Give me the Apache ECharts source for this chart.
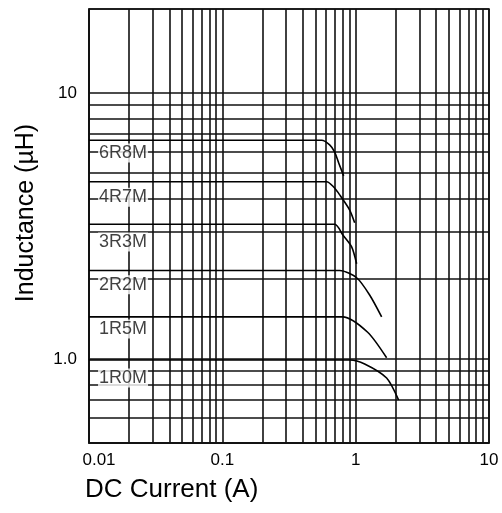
<!DOCTYPE html>
<html>
<head>
<meta charset="utf-8">
<script src="https://cdn.jsdelivr.net/npm/echarts@6/dist/echarts.min.js"></script>
<style>
  html, body { margin: 0; padding: 0; background: #fff; }
  #chart { width: 502px; height: 513px; }
</style>
</head>
<body>
<div id="chart"></div>
<script>
var chart = echarts.init(document.getElementById('chart'));

// part numbers and their curves (current in A, inductance in uH)
var parts = ['6R8M', '4R7M', '3R3M', '2R2M', '1R5M', '1R0M'];
var currentA = [
  [0.01, 0.556, 0.638, 0.696, 0.746, 0.813],
  [0.01, 0.606, 0.684, 0.759, 0.902, 0.983],
  [0.01, 0.696, 0.799, 0.933, 1.017],
  [0.01, 0.759, 1.017, 1.273, 1.566],
  [0.01, 0.799, 1.23, 1.707],
  [0.01, 0.902, 1.168, 1.707, 2.10]
];
var inductance = [
  [6.64, 6.64, 6.38, 6.0, 5.46, 4.88],
  [4.64, 4.64, 4.43, 4.14, 3.63, 3.25],
  [3.21, 3.21, 2.93, 2.64, 2.28],
  [2.15, 2.15, 2.02, 1.74, 1.44],
  [1.44, 1.44, 1.26, 1.01],
  [0.991, 0.991, 0.958, 0.848, 0.701]
];
// where the part tags sit on the chart
var tagCurrent = 0.018;
var tagInductance = [5.95, 4.06, 2.75, 1.90, 1.297, 0.848];

var xTickLabels = {'-2': '0.01', '-1': '0.1', '0': '1', '1': '10'};
var yTickLabels = {'0': '1.0', '1': '10'};

var font = "'Liberation Sans', Arial, sans-serif";
var ink = '#000';

// minor grid lines (2..9 in each decade)
var xMinor = [], yMinor = [];
[0.01, 0.1, 1].forEach(function(d) {
  for (var k = 2; k <= 9; k++) xMinor.push({xAxis: +(d * k).toPrecision(2)});
});
[0.1, 1].forEach(function(d) {
  for (var k = 2; k <= 9; k++) {
    var v = +(d * k).toPrecision(2);
    if (v >= 0.6) yMinor.push({yAxis: v});
  }
});

function decadeLabel(map) {
  return function(v) {
    var e = Math.log10(v);
    var r = Math.round(e);
    if (Math.abs(e - r) > 1e-6) return '';
    var s = map[String(r)];
    if (!s) return '';
    return r === -2 ? '{first|' + s + '}' : s;
  };
}

var series = parts.map(function(p, i) {
  return {
    name: p,
    type: 'line',
    z: 5,
    symbol: 'none',
    smooth: 0.25,
    lineStyle: {color: ink, width: 1.6},
    data: currentA[i].map(function(x, j) { return [x, inductance[i][j]]; })
  };
});

series.push({
  type: 'line',
  data: [],
  z: 2,
  markLine: {
    silent: true,
    symbol: 'none',
    animation: false,
    label: {show: false},
    lineStyle: {color: '#111', width: 1.6, type: 'solid'},
    data: xMinor.concat(yMinor)
  }
});

series.push({
  type: 'scatter',
  z: 10,
  symbolSize: 0,
  data: parts.map(function(p, i) { return {value: [tagCurrent, tagInductance[i]], name: p}; }),
  label: {
    show: true,
    position: 'inside',
    formatter: '{b}',
    fontFamily: font,
    fontSize: 18,
    color: '#111',
    backgroundColor: '#fff',
    padding: [1, 1, 0, 1]
  }
});

var option = {
  animation: false,
  grid: {
    left: 89, right: 13, top: 9, bottom: 70,
    show: true, borderColor: '#111', borderWidth: 1.6,
    containLabel: false
  },
  xAxis: {
    type: 'log',
    logBase: 10,
    min: 0.01,
    max: 10,
    axisLine: {show: true, lineStyle: {color: '#111', width: 1.6}},
    axisTick: {show: false},
    splitLine: {show: true, lineStyle: {color: '#111', width: 1.6}},
    axisLabel: {
      formatter: decadeLabel(xTickLabels),
      fontFamily: font,
      fontSize: 17,
      color: '#000',
      margin: 9,
      rich: {first: {fontFamily: font, fontSize: 17, color: '#000', padding: [0, 0, 0, 20]}}
    }
  },
  yAxis: {
    type: 'log',
    logBase: 10,
    min: 0.483,
    max: 20.7,
    axisLine: {show: true, lineStyle: {color: '#111', width: 1.6}},
    axisTick: {show: false},
    splitLine: {show: true, lineStyle: {color: '#111', width: 1.6}},
    axisLabel: {
      formatter: decadeLabel(yTickLabels),
      fontFamily: font,
      fontSize: 17,
      color: '#000',
      margin: 12
    }
  },
  graphic: [
    {
      type: 'text',
      left: 85,
      top: 477,
      style: {text: 'DC Current (A)', font: "26px 'Liberation Sans', Arial, sans-serif", fill: '#000'}
    },
    {
      type: 'text',
      x: 26,
      y: 213,
      rotation: Math.PI / 2,
      style: {
        text: 'Inductance (\u00b5H)',
        font: "25px 'Liberation Sans', Arial, sans-serif",
        fill: '#000',
        align: 'center',
        verticalAlign: 'middle'
      }
    }
  ],
  series: series
};
chart.setOption(option);
</script>
</body>
</html>
